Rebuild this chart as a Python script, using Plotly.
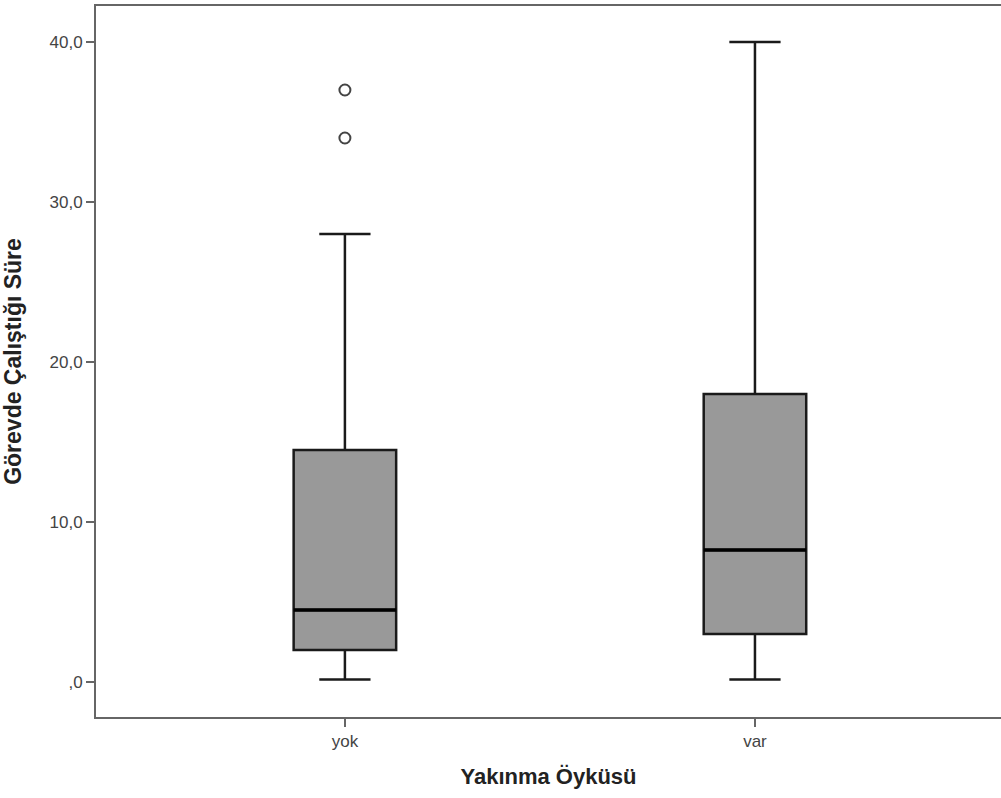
import plotly.graph_objects as go

categories = ["yok", "var"]
q1 = [2.0, 3.0]
median = [4.5, 8.25]
q3 = [14.5, 18.0]
lower_whisker = [0.15, 0.15]
upper_whisker = [28.0, 40.0]
outlier_cat = [0, 0]
outlier_val = [37.0, 34.0]
ytick_vals = [0, 10, 20, 30, 40]
ytick_text = [",0", "10,0", "20,0", "30,0", "40,0"]

xpos = list(range(len(categories)))
box_w = 0.25

fig = go.Figure()
fig.add_trace(go.Box(
    x=xpos, q1=q1, median=median, q3=q3,
    lowerfence=lower_whisker, upperfence=upper_whisker,
    width=box_w, whiskerwidth=0.5,
    fillcolor="#999999",
    line=dict(color="#1a1a1a", width=2.5),
    boxpoints=False, hoverinfo="skip", showlegend=False,
))
# thicker median lines
for i, m in zip(xpos, median):
    fig.add_trace(go.Scatter(
        x=[i - box_w / 2, i + box_w / 2], y=[m, m], mode="lines",
        line=dict(color="#000000", width=3.5), showlegend=False, hoverinfo="skip",
    ))
fig.add_trace(go.Scatter(
    x=outlier_cat, y=outlier_val, mode="markers",
    marker=dict(symbol="circle-open", size=11, color="#444444", line=dict(width=2)),
    showlegend=False, hoverinfo="skip",
))

fig.update_layout(
    width=1001, height=798,
    margin=dict(l=96, r=0, t=6, b=81),
    paper_bgcolor="white", plot_bgcolor="white",
    font=dict(family="Liberation Sans, Arial, sans-serif", color="#333333"),
    xaxis=dict(
        range=[-0.607, 1.6], tickvals=xpos, ticktext=categories,
        showline=True, linecolor="#666666", linewidth=2, mirror=True,
        ticks="outside", ticklen=8, tickwidth=2, tickcolor="#666666",
        showgrid=False, zeroline=False,
        tickfont=dict(size=17, color="#444444"),
        title=dict(text="<b>Yakınma Öyküsü</b>", font=dict(size=22, color="#222222"), standoff=18),
    ),
    yaxis=dict(
        range=[-2.19, 42.25], tickvals=ytick_vals, ticktext=ytick_text,
        showline=True, linecolor="#666666", linewidth=2,
        ticks="outside", ticklen=8, tickwidth=2, tickcolor="#666666",
        showgrid=False, zeroline=False,
        tickfont=dict(size=17, color="#444444"),
        title=dict(text="<b>Görevde Çalıştığı Süre</b>", font=dict(size=23, color="#222222"), standoff=22),
    ),
)

fig.write_html("out.html", config={"displayModeBar": False},
               post_script="document.body.style.margin='0';")
